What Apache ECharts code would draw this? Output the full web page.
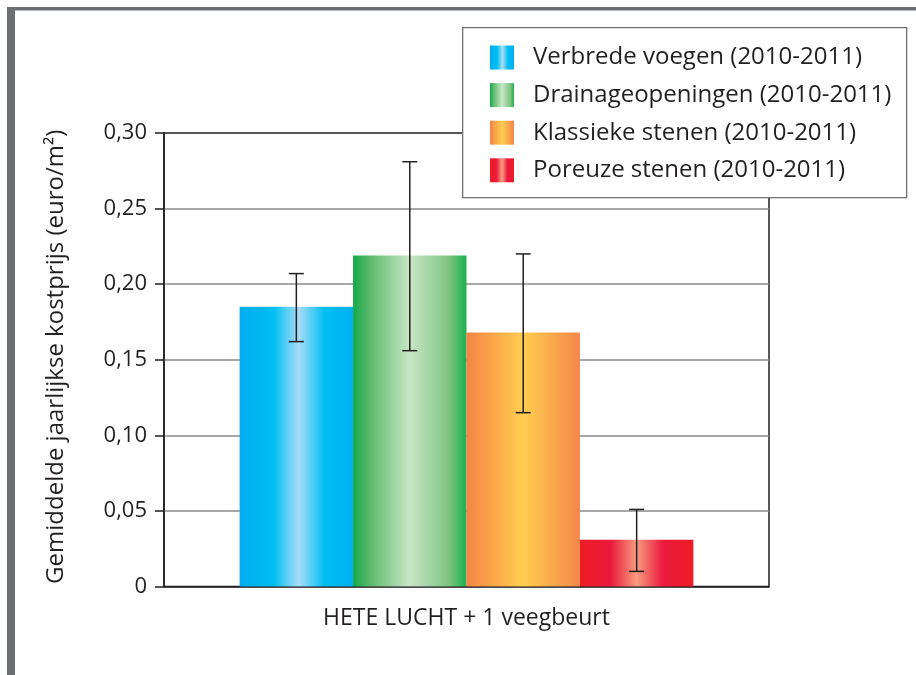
<!DOCTYPE html>
<html>
<head>
<meta charset="utf-8">
<title>Gemiddelde jaarlijkse kostprijs</title>
<script src="https://cdn.jsdelivr.net/npm/echarts@6/dist/echarts.min.js"></script>
<style>
  html, body { margin: 0; padding: 0; background: #ffffff; }
  #chart { width: 916px; height: 675px; }
</style>
</head>
<body>
<div id="chart"></div>
<script>
// Category and series
const categories = ['HETE LUCHT + 1 veegbeurt'];
const seriesNames = [
  'Verbrede voegen (2010-2011)',
  'Drainageopeningen (2010-2011)',
  'Klassieke stenen (2010-2011)',
  'Poreuze stenen (2010-2011)'
];
// Mean yearly cost (euro/m²) and error bar bounds
const meanCost = [0.185, 0.219, 0.168, 0.031];
const errLow   = [0.162, 0.156, 0.115, 0.010];
const errHigh  = [0.207, 0.281, 0.220, 0.051];
// Value axis ticks
const yTickValues = [0, 0.05, 0.10, 0.15, 0.20, 0.25, 0.30];
const yTickLabels = ['0', '0,05', '0,10', '0,15', '0,20', '0,25', '0,30'];

const FONT = '"Open Sans", "Noto Sans", sans-serif';
const INK = '#231f20';
const FRAME = '#6d6e71';
const CAT_GAP = 0.25;

// Horizontal "cylinder" gradients for each bar
function hGrad(stops) {
  return new echarts.graphic.LinearGradient(0, 0, 1, 0,
    stops.map(s => ({ offset: s[0], color: s[1] })));
}
const fills = [
  hGrad([[0, '#00acee'], [0.3, '#00bff3'], [0.52, '#a8dbf7'], [0.75, '#00bff3'], [1, '#00b0f0']]),
  hGrad([[0, '#14a94a'], [0.15, '#5dba6b'], [0.5, '#c9e6c6'], [0.85, '#7cc47f'], [1, '#1db04f']]),
  hGrad([[0, '#f58446'], [0.5, '#ffcd4f'], [1, '#f5864a']]),
  hGrad([[0, '#ee1c24'], [0.27, '#eb1a3c'], [0.5, '#f79b7e'], [0.73, '#eb1a3f'], [1, '#ee1c24']])
];

const barSeries = seriesNames.map((name, i) => ({
  name: name,
  type: 'bar',
  data: [meanCost[i]],
  barGap: '0%',
  barCategoryGap: (CAT_GAP * 100) + '%',
  itemStyle: { color: fills[i] },
  emphasis: { disabled: true },
  z: 2
}));

// Error bars drawn over the grouped bars
const errData = seriesNames.map((_, i) => [0, errLow[i], errHigh[i], i]);
const errSeries = {
  type: 'custom',
  name: 'err',
  data: errData,
  z: 3,
  silent: true,
  renderItem: function (params, api) {
    const band = api.size([1, 0])[0];
    const groupW = band * (1 - CAT_GAP);
    const barW = groupW / seriesNames.length;
    const top = api.coord([api.value(0), api.value(2)]);
    const bot = api.coord([api.value(0), api.value(1)]);
    const x = top[0] - groupW / 2 + (api.value(3) + 0.5) * barW;
    const cap = 7.5;
    const style = { stroke: INK, lineWidth: 1.5 };
    return {
      type: 'group',
      children: [
        { type: 'line', shape: { x1: x, y1: top[1], x2: x, y2: bot[1] }, style: style },
        { type: 'line', shape: { x1: x - cap, y1: top[1], x2: x + cap, y2: top[1] }, style: style },
        { type: 'line', shape: { x1: x - cap, y1: bot[1], x2: x + cap, y2: bot[1] }, style: style }
      ]
    };
  }
};

const chart = echarts.init(document.getElementById('chart'), null, { renderer: 'canvas' });
chart.setOption({
  animation: false,
  backgroundColor: '#ffffff',
  textStyle: { fontFamily: FONT, color: INK },
  graphic: [
    // page frame: heavy left rule and thin top rule
    { type: 'rect', left: 7, top: 7, shape: { width: 8, height: 668 }, style: { fill: FRAME }, z: 1 },
    { type: 'rect', left: 7, top: 7, shape: { width: 909, height: 3.5 }, style: { fill: FRAME }, z: 1 },
    // legend box
    { type: 'rect', left: 462, top: 27, shape: { width: 444, height: 170 },
      style: { fill: '#ffffff', stroke: '#707070', lineWidth: 1.3 }, z: 50 }
  ],
  grid: {
    left: 164, right: 147, top: 133, bottom: 88.5,
    show: true, borderColor: INK, borderWidth: 1.5, backgroundColor: 'transparent'
  },
  legend: {
    data: seriesNames,
    orient: 'vertical',
    left: 490, top: 45.5,
    padding: 0,
    itemWidth: 24, itemHeight: 24, itemGap: 13.6,
    icon: 'rect',
    selectedMode: false,
    z: 60,
    textStyle: { fontFamily: FONT, fontSize: 24, color: INK, padding: [0, 0, 0, 14] }
  },
  xAxis: {
    type: 'category',
    data: categories,
    axisLine: { lineStyle: { color: INK, width: 1.5 } },
    axisTick: { show: false },
    axisLabel: { fontFamily: FONT, fontSize: 23, color: INK, margin: 20 }
  },
  yAxis: {
    type: 'value',
    min: 0, max: 0.3, interval: 0.05,
    name: 'Gemiddelde jaarlijkse kostprijs (euro/m²)',
    nameLocation: 'middle',
    nameGap: 96,
    nameTextStyle: { fontFamily: FONT, fontSize: 24, color: INK, padding: [0, 0, 0, 6] },
    axisLine: { show: true, lineStyle: { color: INK, width: 1.5 } },
    axisTick: { show: true, inside: false, length: 9, lineStyle: { color: INK, width: 1.5 } },
    axisLabel: {
      fontFamily: FONT, fontSize: 22, color: INK, margin: 17,
      formatter: function (v) {
        const k = yTickValues.findIndex(t => Math.abs(t - v) < 1e-9);
        return k >= 0 ? yTickLabels[k] : '';
      }
    },
    splitLine: { show: true, showMinLine: false, showMaxLine: false,
      lineStyle: { color: '#8a8a8a', width: 1.5 } }
  },
  series: barSeries.concat([errSeries])
});
</script>
</body>
</html>
